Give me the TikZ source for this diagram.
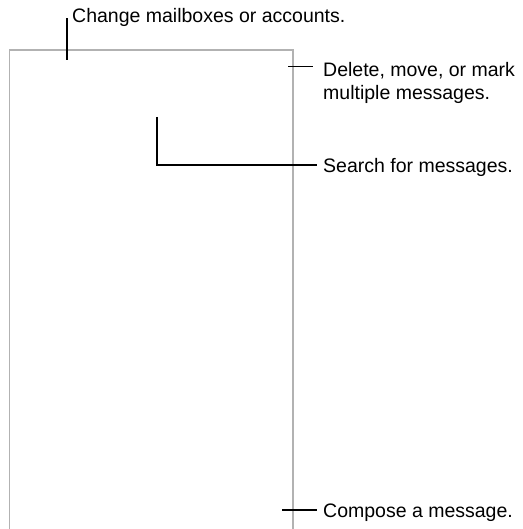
\documentclass[tikz,border=0pt]{standalone}
\usepackage{fontspec}
\setmainfont{Liberation Sans}
\usetikzlibrary{positioning}

\begin{document}
\begin{tikzpicture}[x=1pt, y=-1pt,
    callout/.style={anchor=base west, inner sep=0pt, align=left,
        font=\fontsize{19.5}{23}\selectfont},
    leader/.style={black, line width=1.1pt},
    screen/.style={black!30, line width=1.1pt}]
    \useasboundingbox (0,0) rectangle (522,529);

    % Screen outline
    \draw[screen] (9.5,529) -- (9.5,50) -- (293,50) -- (293,529);

    % Callout texts (base of a two-line node is its last line)
    \node[callout] (change) at (72,23) {Change mailboxes or accounts.};
    \node[callout] (delete) at (323,99.5) {Delete, move, or mark\\multiple messages.};
    \node[callout] (search) at (323,173) {Search for messages.};
    \node[callout] (compose) at (323,517) {Compose a message.};

    % Leader ends
    \coordinate (mbox) at (67,60);
    \coordinate (mboxtop) at (67,18);
    \coordinate (edit) at (288,66.5);
    \coordinate (edittip) at (313,66.5);
    \coordinate (find) at (157,117);
    \coordinate (findtip) at (317,165);
    \coordinate (newmsg) at (282,510);
    \coordinate (newmsgtip) at (317,510);

    % Leaders
    \draw[leader] (mbox) -- (mboxtop);
    \draw[leader] (edit) -- (edittip);
    \draw[leader] (find) |- (findtip);
    \draw[leader] (newmsg) -- (newmsgtip);
\end{tikzpicture}
\end{document}
